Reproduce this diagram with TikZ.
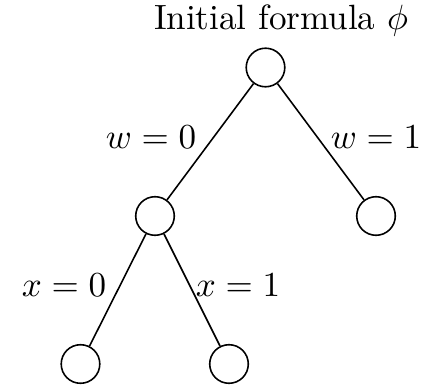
\documentclass[tikz,border=0pt]{standalone}
\begin{document}
\begin{tikzpicture}[x=0.285pt,y=-0.285pt,
  st/.style={circle,draw,line width=0.45pt,minimum size=11pt,inner sep=0pt},
  edge/.style={line width=0.45pt},
  lbl/.style={inner sep=0pt,font=\fontsize{10}{12}\selectfont}]
\useasboundingbox (0,0) rectangle (430,384);
\node[lbl] (title) at (281,21) {Initial formula $\phi$};
\node[st] (r) at (265.5,67.5) {};
\node[st] (a) at (155,216) {};
\node[st] (b) at (376,216) {};
\node[st] (c) at (80.5,364) {};
\node[st] (d) at (229,364) {};
\draw[edge] (r) -- (a);
\draw[edge] (r) -- (b);
\draw[edge] (a) -- (c);
\draw[edge] (a) -- (d);
\node[lbl] (l1) at (151,137) {$w=0$};
\node[lbl] (l2) at (376,137) {$w=1$};
\node[lbl] (l3) at (64,285) {$x=0$};
\node[lbl] (l4) at (238,285) {$x=1$};
\end{tikzpicture}
\end{document}
